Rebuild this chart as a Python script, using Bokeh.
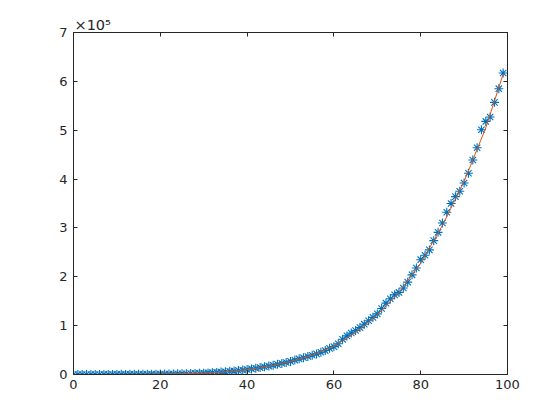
from bokeh.plotting import figure
from bokeh.models import Range1d, LinearAxis, FixedTicker
from bokeh.embed import file_html
from bokeh.resources import INLINE

# ---- data ----
x_data = list(range(0, 100))
y_data = [
    0, 0, 5, 20, 60, 20, 80, 150, 100, 200,
    150, 300, 250, 400, 350, 500, 400, 600, 700, 600,
    800, 900, 1000, 1100, 1300, 1400, 1600, 1900, 2200, 2400,
    2800, 3300, 3700, 4300, 4900, 5500, 6400, 7200, 8100, 9200,
    10200, 11500, 12800, 14100, 15800, 17200, 19000, 20800, 22700, 24500,
    26800, 29500, 32000, 34200, 36800, 39500, 42200, 45500, 49000, 53500,
    57000, 63000, 72000, 79000, 85000, 90000, 96000, 103000, 110000, 117000,
    124000, 135000, 146000, 155000, 163000, 168000, 177000, 189000, 204000, 218000,
    235000, 244000, 255000, 274000, 291000, 310000, 332000, 350000, 364000, 375000,
    392000, 412000, 439000, 464000, 501000, 518000, 527000, 557000, 585000, 617000,
]
x_fit = [0, 5, 10, 15, 20, 25, 30, 35, 40, 45, 50, 55, 60, 65, 70, 75, 80, 85, 90, 95, 99]
y_fit = [0, 50, 150, 400, 800, 1500, 2900, 5400, 9800, 16800, 26500, 39500,
         58000, 86000, 122000, 168000, 228000, 305000, 395000, 505000, 615000]

x_ticks = [0, 20, 40, 60, 80, 100]
y_ticks = [0, 100000, 200000, 300000, 400000, 500000, 600000, 700000]
y_tick_labels = ["0", "1", "2", "3", "4", "5", "6", "7"]
exponent_text = "×10⁵"

FONT = "DejaVu Sans"
AX = "#262626"

p = figure(width=544, height=404, output_backend="svg", toolbar_location=None,
           x_range=Range1d(0, 100), y_range=Range1d(0, 700000),
           min_border_left=73, min_border_right=37, min_border_top=32, min_border_bottom=30,
           background_fill_color="white", border_fill_color="white")
p.grid.visible = False
p.outline_line_color = AX
p.outline_line_width = 1

def style(ax):
    ax.axis_line_color = AX
    ax.axis_line_width = 1
    ax.major_tick_in = 4
    ax.major_tick_out = 0
    ax.minor_tick_line_color = None
    ax.major_tick_line_color = AX
    ax.major_label_text_color = AX
    ax.major_label_text_font = FONT
    ax.major_label_text_font_size = "13px"
    ax.major_label_standoff = 5

xa = p.xaxis[0]
xa.ticker = FixedTicker(ticks=x_ticks)
style(xa)
ya = p.yaxis[0]
ya.ticker = FixedTicker(ticks=y_ticks)
ya.major_label_overrides = {t: l for t, l in zip(y_ticks, y_tick_labels)}
style(ya)
ya.major_label_standoff = 6

top = LinearAxis(ticker=FixedTicker(ticks=x_ticks))
style(top)
top.major_label_overrides = {t: "" for t in x_ticks}
top.major_label_standoff = 0
p.add_layout(top, "above")
right = LinearAxis(ticker=FixedTicker(ticks=y_ticks))
style(right)
right.major_label_overrides = {t: "" for t in y_ticks}
right.major_label_standoff = 0
p.add_layout(right, "right")

p.scatter(x_data, y_data, marker="asterisk", size=9, line_color="#0072BD", line_width=1.1)
p.line(x_fit, y_fit, line_color="#D95319", line_width=1)

p.title.text = exponent_text
p.title.align = "left"
p.title.offset = 1
p.title.standoff = 0
p.title.text_font = FONT
p.title.text_font_size = "14.5px"
p.title.text_font_style = "normal"
p.title.text_color = AX

open("out.html", "w").write(file_html(p, INLINE))
